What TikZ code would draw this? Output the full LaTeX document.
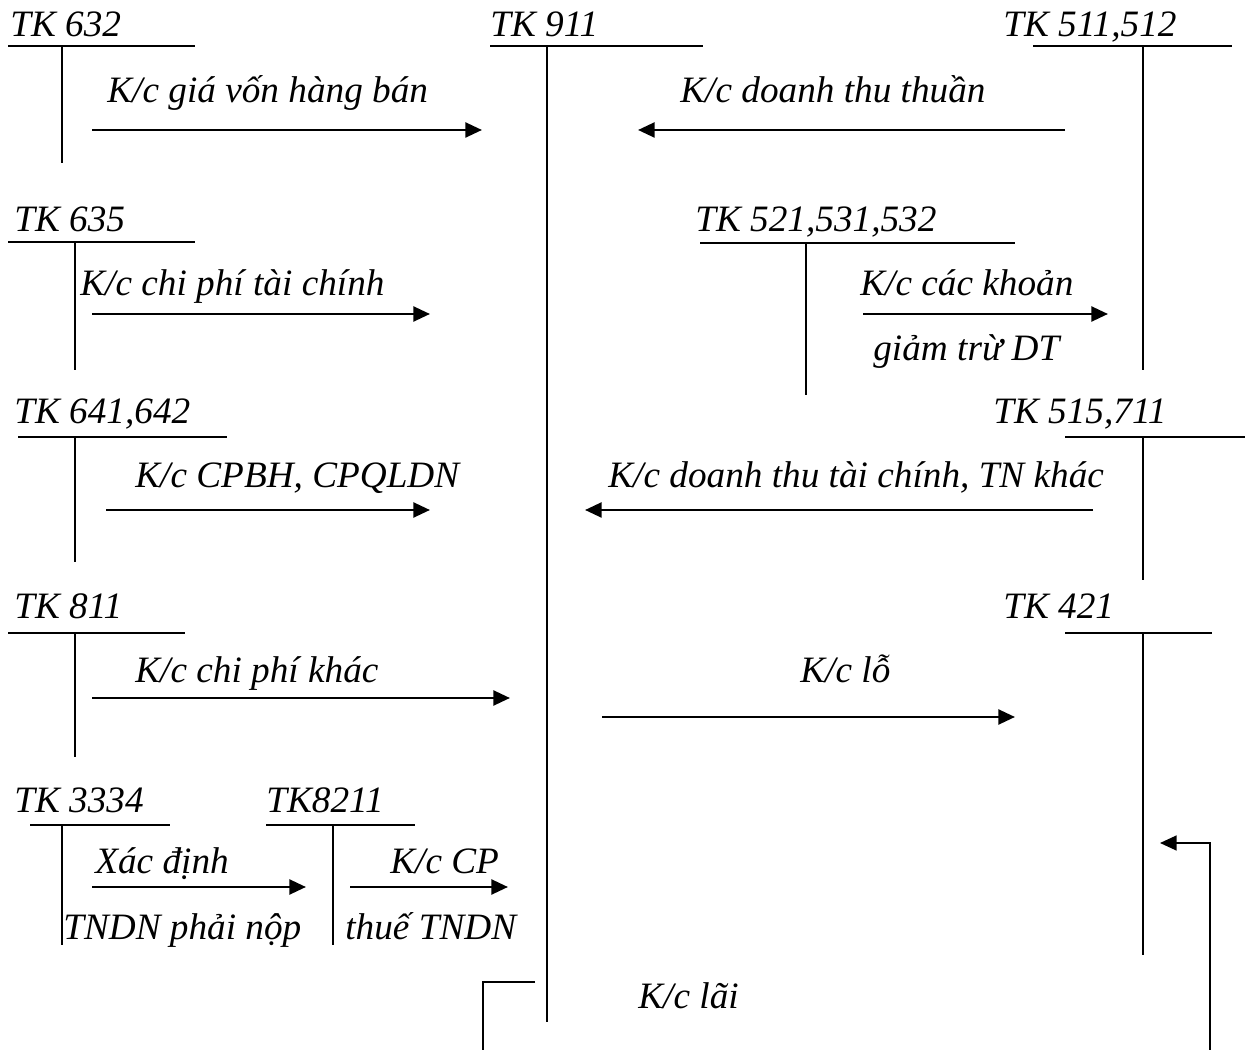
\documentclass[tikz,border=0pt]{standalone}
\usepackage{fontspec}
\setmainfont{Liberation Serif}
\usetikzlibrary{arrows.meta}

\begin{document}
\begin{tikzpicture}[
	x=0.02cm, y=-0.02cm,
	every node/.style = {inner sep=0pt, anchor=base west,
		font=\fontsize{21.2}{25}\selectfont\itshape},
	tline/.style = {line width=1.1pt},
	flow/.style = {line width=1.5pt, -{Triangle[length=9.5pt,width=8.5pt]}}]
	\useasboundingbox (0,0) rectangle (1245,1050);

	% cac tai khoan chu T
	\node (tk632) at (10,37) {TK 632};
	\draw[tline] (8,46) -- (195,46) (62,46) -- (62,163);
	\node (tk911) at (490,37) {TK 911};
	\draw[tline] (490,46) -- (703,46) (547,46) -- (547,1022);
	\node (tk511) at (1003,37) {TK 511,512};
	\draw[tline] (1033,46) -- (1232,46) (1143,46) -- (1143,370);

	\node (tk635) at (14,232) {TK 635};
	\draw[tline] (8,242) -- (195,242) (75,242) -- (75,370);
	\node (tk521) at (695,232) {TK 521,531,532};
	\draw[tline] (700,243) -- (1015,243) (806,243) -- (806,395);

	\node (tk641) at (14,424) {TK 641,642};
	\draw[tline] (18,437) -- (227,437) (75,437) -- (75,562);
	\node (tk515) at (993,424) {TK 515,711};
	\draw[tline] (1065,437) -- (1245,437) (1143,437) -- (1143,580);

	\node (tk811) at (14,619) {TK 811};
	\draw[tline] (8,633) -- (185,633) (75,633) -- (75,757);
	\node (tk421) at (1003,619) {TK 421};
	\draw[tline] (1065,633) -- (1212,633) (1143,633) -- (1143,955);

	\node (tk3334) at (14,812) {TK 3334};
	\draw[tline] (30,825) -- (170,825) (62,825) -- (62,945);
	\node (tk8211) at (266,812) {TK8211};
	\draw[tline] (266,825) -- (415,825) (333,825) -- (333,945);

	% but toan ket chuyen
	\node (kc632) at (107,103) {K/c giá vốn hàng bán};
	\coordinate (a632) at (92,130); \coordinate (b632) at (482,130);
	\draw[flow] (a632) -- (b632);

	\node (kc511) at (680,103) {K/c doanh thu thuần};
	\coordinate (a511) at (1065,130); \coordinate (b511) at (638,130);
	\draw[flow] (a511) -- (b511);

	\node (kc635) at (80,296) {K/c chi phí tài chính};
	\coordinate (a635) at (92,314); \coordinate (b635) at (430,314);
	\draw[flow] (a635) -- (b635);

	\node (kc521) at (860,296) {K/c các khoản};
	\node (kc521b) at (873,361) {giảm trừ DT};
	\coordinate (a521) at (863,314); \coordinate (b521) at (1108,314);
	\draw[flow] (a521) -- (b521);

	\node (kc641) at (135,488) {K/c CPBH, CPQLDN};
	\coordinate (a641) at (106,510); \coordinate (b641) at (430,510);
	\draw[flow] (a641) -- (b641);

	\node (kc515) at (608,488) {K/c doanh thu tài chính, TN khác};
	\coordinate (a515) at (1093,510); \coordinate (b515) at (585,510);
	\draw[flow] (a515) -- (b515);

	\node (kc811) at (135,683) {K/c chi phí khác};
	\coordinate (a811) at (92,698); \coordinate (b811) at (510,698);
	\draw[flow] (a811) -- (b811);

	\node (kclo) at (800,683) {K/c lỗ};
	\coordinate (alo) at (602,717); \coordinate (blo) at (1015,717);
	\draw[flow] (alo) -- (blo);

	\node (kc3334) at (95,873) {Xác định};
	\node (kc3334b) at (63,939) {TNDN phải nộp};
	\coordinate (a3334) at (92,887); \coordinate (b3334) at (306,887);
	\draw[flow] (a3334) -- (b3334);

	\node (kc8211) at (390,873) {K/c CP};
	\node (kc8211b) at (345,939) {thuế TNDN};
	\coordinate (a8211) at (350,887); \coordinate (b8211) at (508,887);
	\draw[flow] (a8211) -- (b8211);

	% ket chuyen lai
	\node (kclai) at (638,1008) {K/c lãi};
	\coordinate (alai) at (535,982); \coordinate (clai) at (483,1050);
	\draw[tline] (alai) -| (clai);
	\coordinate (dlai) at (1210,1050); \coordinate (blai) at (1160,843);
	\draw[flow, line width=1.1pt] (dlai) |- (blai);
\end{tikzpicture}
\end{document}
